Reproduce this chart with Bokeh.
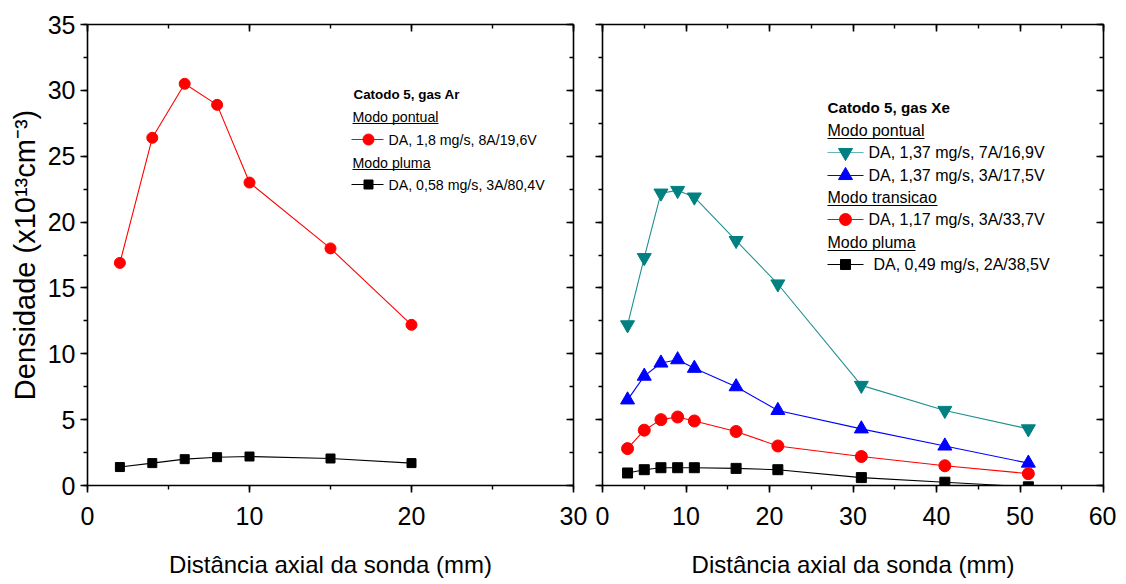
from bokeh.plotting import figure
from bokeh.models import Range1d, LinearAxis, SingleIntervalTicker, CustomJSTickFormatter
from bokeh.layouts import row
from bokeh.embed import file_html
from bokeh.resources import INLINE
from bokeh.core.properties import value

# ---------------- data ----------------
ar_x = [2, 4, 6, 8, 10, 15, 20]
ar_pontual = [16.9, 26.4, 30.5, 28.9, 23.0, 18.0, 12.2]
ar_pluma = [1.4, 1.7, 2.0, 2.15, 2.2, 2.05, 1.7]

xe_x = [3, 5, 7, 9, 11, 16, 21, 31, 41, 51]
xe_pontual_7a = [12.2, 17.3, 22.2, 22.4, 21.9, 18.6, 15.3, 7.6, 5.7, 4.3]
xe_pontual_3a = [6.5, 8.3, 9.3, 9.55, 8.9, 7.5, 5.7, 4.3, 3.0, 1.7]
xe_transicao = [2.8, 4.2, 5.0, 5.2, 4.9, 4.1, 3.0, 2.2, 1.5, 0.9]
xe_pluma = [0.95, 1.2, 1.35, 1.35, 1.35, 1.3, 1.2, 0.6, 0.25, -0.1]

y_label = "Densidade (x10\u00b9\u00b3cm\u207b\u00b3)"
x_label = "Distância axial da sonda (mm)"

ar_title = "Catodo 5, gas Ar"
ar_heads = ["Modo pontual", "Modo pluma"]
ar_items = ["DA, 1,8 mg/s, 8A/19,6V", "DA, 0,58 mg/s, 3A/80,4V"]

xe_title = "Catodo 5, gas Xe"
xe_heads = ["Modo pontual", "Modo transicao", "Modo pluma"]
xe_items = ["DA, 1,37 mg/s, 7A/16,9V", "DA, 1,37 mg/s, 3A/17,5V",
            "DA, 1,17 mg/s, 3A/33,7V", "DA, 0,49 mg/s, 2A/38,5V"]

# ---------------- style ----------------
TICK_FONT = "Liberation Sans"
FONT = "Liberation Sans"
TEAL = "#008080"
TEAL_LINE = "#1f9090"
TEAL_LEG = "#66b8b8"
YMAX = 35
FRAME_TOP, FRAME_H = 24, 461
HEIGHT = 580


def empty_fmt():
    return CustomJSTickFormatter(code="return ''")


def style_axis(ax, inward=False):
    ax.axis_line_width = 1.6
    ax.axis_line_color = "black"
    ax.major_tick_line_width = 1.6
    ax.minor_tick_line_width = 1.4
    ax.major_tick_line_color = "black"
    ax.minor_tick_line_color = "black"
    if inward:
        ax.major_tick_in, ax.major_tick_out = 7, 0
        ax.minor_tick_in, ax.minor_tick_out = 4, 0
    else:
        ax.major_tick_in, ax.major_tick_out = 0, 7
        ax.minor_tick_in, ax.minor_tick_out = 0, 4
    ax.major_label_text_font = TICK_FONT
    ax.major_label_text_font_size = "25px"
    ax.major_label_text_color = "black"


def make_fig(xmax, width, bl, br, ylabels):
    p = figure(width=width, height=HEIGHT, x_range=Range1d(0, xmax), y_range=Range1d(0, YMAX),
               output_backend="svg", toolbar_location=None,
               min_border_left=bl, min_border_right=br,
               min_border_top=FRAME_TOP, min_border_bottom=HEIGHT - FRAME_TOP - FRAME_H)
    p.grid.visible = False
    p.outline_line_color = None
    p.background_fill_color = "white"
    p.border_fill_color = "white"
    p.xaxis.ticker = SingleIntervalTicker(interval=10, num_minor_ticks=2)
    p.yaxis.ticker = SingleIntervalTicker(interval=5, num_minor_ticks=2)
    for ax in p.xaxis + p.yaxis:
        style_axis(ax)
    p.xaxis.major_label_standoff = 14
    p.xaxis.axis_label = x_label
    p.xaxis.axis_label_text_font = FONT
    p.xaxis.axis_label_text_font_size = "24px"
    p.xaxis.axis_label_text_font_style = "normal"
    p.xaxis.axis_label_text_color = "black"
    p.xaxis.axis_label_standoff = 23
    if ylabels:
        p.yaxis.major_label_standoff = 5
        p.yaxis.axis_label = y_label
        p.yaxis.axis_label_text_font = FONT
        p.yaxis.axis_label_text_font_size = "29px"
        p.yaxis.axis_label_text_font_style = "normal"
        p.yaxis.axis_label_text_color = "black"
        p.yaxis.axis_label_standoff = 4
    else:
        p.yaxis.formatter = empty_fmt()
        p.yaxis.major_label_text_font_size = "1px"
        p.yaxis.major_label_standoff = 0
    ra = LinearAxis(ticker=SingleIntervalTicker(interval=5, num_minor_ticks=2), formatter=empty_fmt())
    style_axis(ra, inward=True)
    ra.major_label_text_font_size = "1px"
    ra.major_label_standoff = 0
    p.add_layout(ra, "right")
    ta = LinearAxis(ticker=SingleIntervalTicker(interval=10, num_minor_ticks=2), formatter=empty_fmt())
    style_axis(ta, inward=True)
    ta.major_label_text_font_size = "1px"
    ta.major_label_standoff = 0
    p.add_layout(ta, "above")
    return p


# pixel -> data helpers (page coordinates of each frame)
def conv(x0, x1, xmax):
    def fx(px):
        return xmax * (px - x0) / (x1 - x0)
    return fx


def fy(py):
    return YMAX * (FRAME_TOP + FRAME_H - py) / FRAME_H


# ---------------- left panel (Ar) ----------------
p1 = make_fig(30, 587, 87, 14, True)
lx = conv(87, 573, 30)
p1.line(ar_x, ar_pontual, color="red", line_width=1.1)
p1.scatter(ar_x, ar_pontual, marker="circle", size=11, color="red")
p1.line(ar_x, ar_pluma, color="black", line_width=1.1)
p1.scatter(ar_x, ar_pluma, marker="square", size=9, color="black")

F1 = "14.2px"
p1.text([lx(353)], [fy(94)], text=[ar_title], text_font=value(FONT), text_font_size=value("13.4px"),
        text_font_style="bold", text_baseline="middle", text_align="left")
for txt, py, ul in zip(ar_heads, [116, 162], [86, 78]):
    p1.text([lx(352)], [fy(py)], text=[txt], text_font=value(FONT), text_font_size=value(F1),
            text_baseline="middle", text_align="left")
    p1.segment([lx(352)], [fy(py + 7)], [lx(352 + ul)], [fy(py + 7)], color="black", line_width=1)
for txt, py, col, mk, sz in zip(ar_items, [139, 184], ["red", "black"], ["circle", "square"], [11, 9]):
    p1.segment([lx(351)], [fy(py)], [lx(383)], [fy(py)], color=col, line_width=1.1)
    p1.scatter([lx(368)], [fy(py)], marker=mk, size=sz, color=col)
    p1.text([lx(388)], [fy(py)], text=[txt], text_font=value(FONT), text_font_size=value(F1),
            text_baseline="middle", text_align="left")

# ---------------- right panel (Xe) ----------------
p2 = make_fig(60, 529, 15, 13, False)
rx = conv(602, 1103, 60)
series = [
    (xe_pontual_7a, TEAL_LINE, TEAL, "inverted_triangle", 14),
    (xe_pontual_3a, "blue", "blue", "triangle", 14),
    (xe_transicao, "red", "red", "circle", 12),
    (xe_pluma, "black", "black", "square", 10),
]
for ys, lc, mc, mk, sz in series:
    p2.line(xe_x, ys, color=lc, line_width=1.1)
    p2.scatter(xe_x, ys, marker=mk, size=sz, color=mc)

F2 = "16px"
p2.text([rx(827)], [fy(107)], text=[xe_title], text_font=value(FONT), text_font_size=value("15.2px"),
        text_font_style="bold", text_baseline="middle", text_align="left")
for txt, py, ul in zip(xe_heads, [130, 197, 242], [97, 110, 88]):
    p2.text([rx(827)], [fy(py)], text=[txt], text_font=value(FONT), text_font_size=value(F2),
            text_baseline="middle", text_align="left")
    p2.segment([rx(827)], [fy(py + 8)], [rx(827 + ul)], [fy(py + 8)], color="black", line_width=1)
leg_rows = [152, 175, 219, 264]
leg_lc = [TEAL_LEG, "blue", "red", "black"]
leg_tx = [868, 868, 868, 873]
for txt, py, (ys, lc, mc, mk, sz), llc, tx in zip(xe_items, leg_rows, series, leg_lc, leg_tx):
    p2.segment([rx(827)], [fy(py)], [rx(863)], [fy(py)], color=llc, line_width=1.1)
    p2.scatter([rx(845)], [fy(py)], marker=mk, size=sz, color=mc)
    p2.text([rx(tx)], [fy(py)], text=[txt], text_font=value(FONT), text_font_size=value(F2),
            text_baseline="middle", text_align="left")

layout = row(p1, p2)
open("out.html", "w").write(file_html(layout, INLINE))
